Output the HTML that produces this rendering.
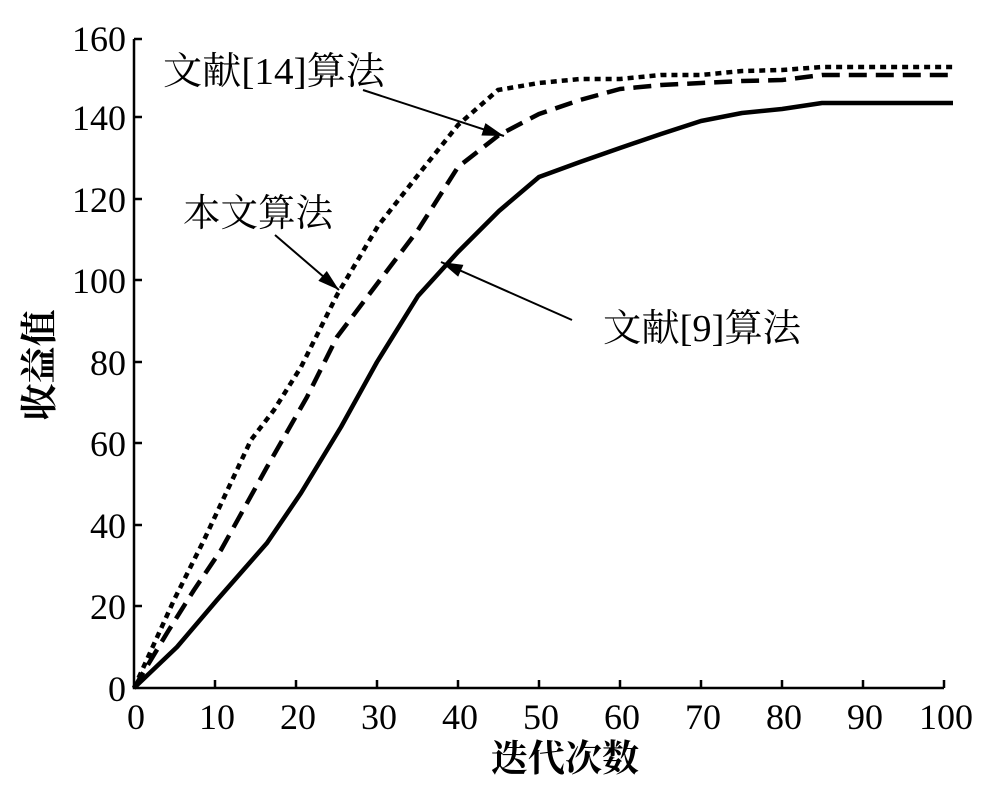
<!DOCTYPE html>
<html><head><meta charset="utf-8"><style>
body{margin:0;background:#fff}
svg text{font-family:"Liberation Serif","Noto Serif CJK SC",serif;fill:#000}
</style></head><body>
<svg width="1000" height="787" viewBox="0 0 1000 787" xmlns="http://www.w3.org/2000/svg">
<defs>
<marker id="a2" viewBox="0 0 10 6" refX="10" refY="3" markerWidth="22" markerHeight="13" orient="auto" markerUnits="userSpaceOnUse"><path d="M0,0L10,3L0,6z"/></marker></defs>
<g stroke="#000" stroke-width="2.5" fill="none">
<path d="M134,39 V688 H944"/>
<path d="M134,39h8M134,117h8M134,199h8M134,280h8M134,362h8M134,443h8M134,525h8M134,606h8"/>
<path d="M215,688v-8M296,688v-8M377,688v-8M458,688v-8M539,688v-8M620,688v-8M701,688v-8M782,688v-8M863,688v-8M944,688v-8"/>
</g>
<g font-size="36" text-anchor="end">
<text x="126" y="51">160</text><text x="126" y="130">140</text><text x="126" y="212">120</text><text x="126" y="293">100</text><text x="126" y="375">80</text><text x="126" y="456">60</text><text x="126" y="538">40</text><text x="126" y="619">20</text><text x="126" y="701">0</text>
</g>
<g font-size="36" text-anchor="middle">
<text x="136" y="729">0</text><text x="217" y="729">10</text><text x="298" y="729">20</text><text x="379" y="729">30</text><text x="460" y="729">40</text><text x="541" y="729">50</text><text x="622" y="729">60</text><text x="703" y="729">70</text><text x="784" y="729">80</text><text x="865" y="729">90</text><text x="946" y="729">100</text>
</g>
<text x="565" y="771" font-size="37" text-anchor="middle" font-family="Noto Sans CJK SC,sans-serif" font-weight="bold">迭代次数</text>
<text transform="translate(52,365) rotate(-90)" font-size="37" text-anchor="middle" font-family="Noto Sans CJK SC,sans-serif" font-weight="bold">收益值</text>
<g fill="none" stroke="#000" stroke-linejoin="round">
<polyline stroke-width="4.5" points="134,688 177,647 217,600 267,543 301,493 341,427 377,362 418,296 458,252 499,211 539,177 580,162 620,148 661,134 701,121 742,113 782,109 822,103 953,103"/>
<polyline stroke-width="4.5" stroke-dasharray="18,9" points="134,688 167,633 194,590 221,550 267,467 307,397 337,337 377,284 418,230 458,167 499,135 539,114 580,100 620,89 661,85 701,83 742,81 782,80 822,75 953,75"/>
<polyline stroke-width="4.5" stroke-dasharray="6,5" points="134,688 174,600 204,540 251,440 274,410 301,367 337,295 378,226 418,175 458,125 498,90 539,83 580,79 620,79 661,75 701,75 742,71 782,70 822,67 953,67"/>
</g>
<g stroke="#000" stroke-width="2" fill="none">
<line x1="363" y1="90" x2="504" y2="136" marker-end="url(#a2)"/>
<line x1="275" y1="235" x2="339" y2="290" marker-end="url(#a2)"/>
<line x1="572" y1="320" x2="441" y2="262" marker-end="url(#a2)"/>
</g>
<g font-size="38">
<text x="163" y="84" textLength="222" lengthAdjust="spacingAndGlyphs"><tspan font-family="Noto Serif CJK SC,serif">文献</tspan>[14]<tspan font-family="Noto Serif CJK SC,serif">算法</tspan></text>
<text x="183" y="226" font-family="Noto Serif CJK SC,serif" textLength="150" lengthAdjust="spacingAndGlyphs">本文算法</text>
<text x="603" y="341" textLength="198" lengthAdjust="spacingAndGlyphs"><tspan font-family="Noto Serif CJK SC,serif">文献</tspan>[9]<tspan font-family="Noto Serif CJK SC,serif">算法</tspan></text>
</g>
</svg>
</body></html>
